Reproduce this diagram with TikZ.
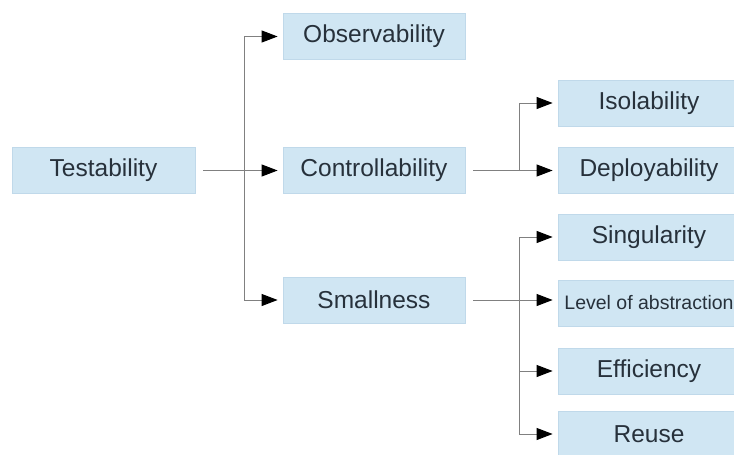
\documentclass[tikz,border=0pt]{standalone}
\usepackage{fontspec}
\setmainfont{Liberation Sans}
\usetikzlibrary{arrows.meta}
\definecolor{boxfill}{HTML}{D0E6F3}
\definecolor{boxline}{HTML}{C0D9EA}
\definecolor{txt}{HTML}{27313B}
\definecolor{wire}{HTML}{808080}
\tikzset{
  box/.style={draw=boxline, line width=0.8pt, fill=boxfill, minimum width=182pt, minimum height=46pt,
    inner sep=0pt, text=txt, font=\fontsize{24.5}{27}\selectfont},
  wireline/.style={draw=wire, line width=1pt},
  arr/.style={wireline, -{Triangle[length=16pt,width=12pt,color=black]}}
}
\begin{document}
\begin{tikzpicture}[x=1pt,y=-1pt]
\useasboundingbox (0,0) rectangle (734,455);
\clip (0,0) rectangle (734,455);
\node[box, minimum width=183pt] (T) at (103.5,170.5) {Testability};
\node[box] (O) at (374,36.5) {Observability};
\node[box] (C) at (374,170.5) {Controllability};
\node[box] (S) at (374,300) {Smallness};
\node[box] (I) at (649,103) {Isolability};
\node[box] (D) at (649,170.5) {Deployability};
\node[box] (G) at (649,237) {Singularity};
\node[box, font=\fontsize{19.5}{22}\selectfont] (L) at (649,303) {Level of abstraction};
\node[box] (E) at (649,371) {Efficiency};
\node[box] (R) at (649,434) {Reuse};
\coordinate (j1) at (244,170.5);
\coordinate (j2) at (519,170.5);
\coordinate (j3) at (519,300);
\draw[wireline] ([xshift=8pt]T.east) -- (j1);
\draw[arr] (j1) -- ([xshift=-5pt]C.west);
\draw[arr] (j1) |- ([xshift=-5pt]O.west);
\draw[arr] (j1) |- ([xshift=-5pt]S.west);
\draw[wireline] ([xshift=8pt]C.east) -- (j2);
\draw[arr] (j2) -- ([xshift=-5pt]D.west);
\draw[arr] (j2) |- ([xshift=-5pt]I.west);
\draw[wireline] ([xshift=8pt]S.east) -- (j3);
\draw[arr] (j3) -- ([xshift=-5pt]j3 -| L.west);
\draw[arr] (j3) |- ([xshift=-5pt]G.west);
\draw[arr] (j3) |- ([xshift=-5pt]E.west);
\draw[arr] (j3) |- ([xshift=-5pt]R.west);
\end{tikzpicture}
\end{document}
